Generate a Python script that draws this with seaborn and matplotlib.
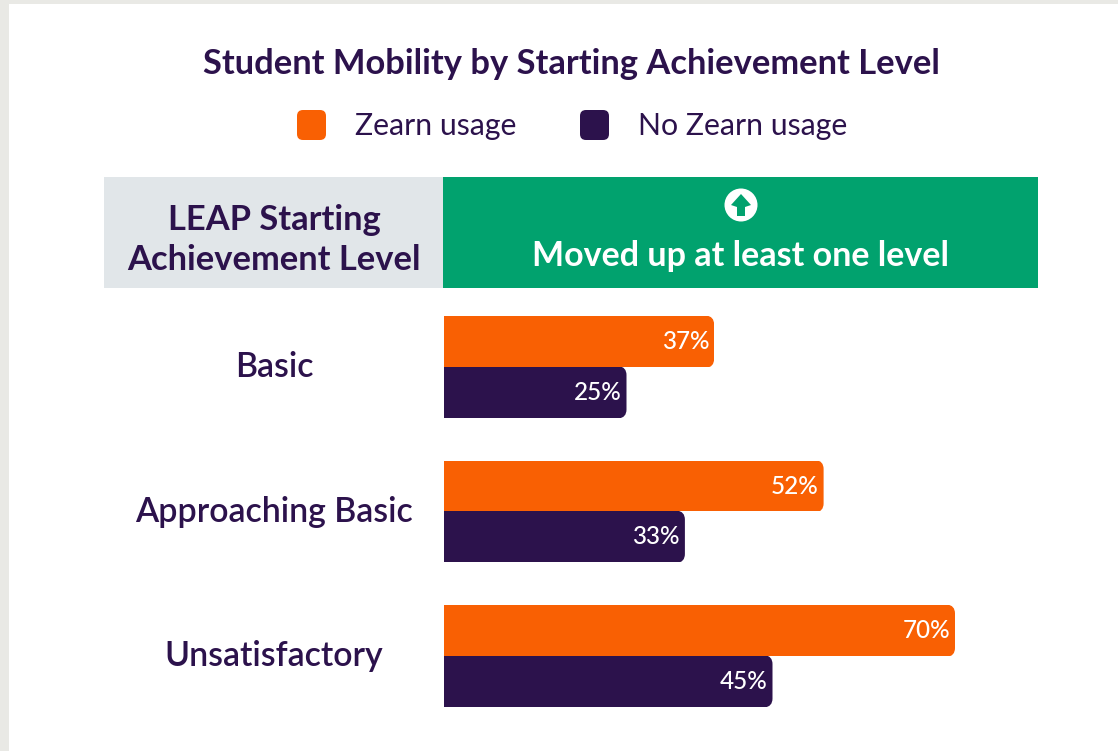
import matplotlib
matplotlib.use("Agg")
import matplotlib.pyplot as plt
import pandas as pd
import seaborn as sns
from matplotlib.patches import Circle, FancyBboxPatch, Polygon, Rectangle
from matplotlib.path import Path

levels = ["Basic", "Approaching Basic", "Unsatisfactory"]
zearn = [37, 52, 70]
no_zearn = [25, 33, 45]
series = ["Zearn usage", "No Zearn usage"]

title = "Student Mobility by Starting Achievement Level"
head_left = "LEAP Starting\nAchievement Level"
head_right = "Moved up at least one level"

ORANGE = "#F96003"
PURPLE = "#2C124C"
GREEN = "#01A26E"
GREY = "#E1E6E9"
W, H = 1118, 751

sns.set_theme(style="white")
plt.rcParams["font.family"] = ["Lato", "DejaVu Sans"]

df = pd.DataFrame({"level": levels * 2,
                   "usage": [series[0]] * 3 + [series[1]] * 3,
                   "pct": zearn + no_zearn})

fig = plt.figure(figsize=(W / 100, H / 100), dpi=100, facecolor="#E9E9E5")

# pixel canvas for the panel, header and legend
bg = fig.add_axes([0, 0, 1, 1])
bg.set_xlim(0, W)
bg.set_ylim(H, 0)
bg.axis("off")
bg.add_patch(Rectangle((9, 4), W - 9, H - 4, fc="white", ec="none"))
bg.add_patch(Rectangle((104, 177), 339, 111, fc=GREY, ec="none"))
bg.add_patch(Rectangle((443, 177), 595, 111, fc=GREEN, ec="none"))

bg.text(571.5, 64, title, ha="center", va="center", fontsize=24.85,
        fontweight="bold", color=PURPLE)
bg.text(274, 240, head_left, ha="center", va="center", fontsize=24.8,
        fontweight="bold", color=PURPLE, linespacing=1.27)
bg.text(741, 256, head_right, ha="center", va="center", fontsize=24.5,
        fontweight="bold", color="white")

# up arrow icon
bg.add_patch(Circle((741, 205), 16.5, fc="white", ec="none"))
bg.add_patch(Polygon([(741, 194), (751, 205), (745, 207), (745, 216),
                      (737, 216), (737, 207), (731, 205)], fc=GREEN, ec="none"))

# legend
for x0, col, name, tx in [(297, ORANGE, series[0], 355), (580, PURPLE, series[1], 638)]:
    bg.add_patch(FancyBboxPatch((x0 + 6, 116), 17, 18, boxstyle="round,pad=6,rounding_size=6",
                                fc=col, ec="none"))
    bg.text(tx, 126, name, ha="left", va="center", fontsize=21.8, color=PURPLE)

# bars
left, right, top, bottom = 444, 1038, 288, 720
ax = fig.add_axes([left / W, 1 - bottom / H, (right - left) / W, (bottom - top) / H])
ax.patch.set_alpha(0)
sns.barplot(data=df, y="level", x="pct", hue="usage", order=levels, hue_order=series,
            palette=[ORANGE, PURPLE], width=0.7, gap=0, legend=False, saturation=1,
            linewidth=0, edgecolor="none", ax=ax)
px_x = 7.3
px_y = 144.5
ax.set_xlim(0, (right - left) / px_x)
ax.set_ylim((bottom - 367) / px_y, -(367 - top) / px_y)
ax.set_xlabel("")
ax.set_ylabel("")
ax.set_xticks([])
sns.despine(ax=ax, left=True, bottom=True)

ax.tick_params(axis="y", length=0, pad=170 * 0.72)
for lab in ax.get_yticklabels():
    lab.set_ha("center")
    lab.set_va("center")
    lab.set_fontsize(24.4)
    lab.set_color(PURPLE)
    lab.set_fontweight("semibold")

# round the right corners of every bar, clip runs past the flat edges to avoid seams
rx, ry = 8 / px_x, 8 / px_y
pad = 1 / px_y
for bar in ax.patches:
    x1 = bar.get_x() + bar.get_width()
    y0, y1 = bar.get_y(), bar.get_y() + bar.get_height()
    verts = [(-1, y0 - pad), (x1 - rx, y0 - pad), (x1, y0), (x1, y0 + ry), (x1, y1 - ry), (x1, y1),
             (x1 - rx, y1 + pad), (-1, y1 + pad), (-1, y0 - pad)]
    codes = [Path.MOVETO, Path.LINETO, Path.CURVE3, Path.CURVE3, Path.LINETO, Path.CURVE3,
             Path.CURVE3, Path.LINETO, Path.CLOSEPOLY]
    bar.set_clip_path(Path(verts, codes), ax.transData)

for cont in ax.containers:
    labs = ax.bar_label(cont, fmt="%d%%", padding=-3.6, color="white", fontsize=17.5, fontweight="medium")
    for t in labs:
        t.set_ha("right")

fig.savefig("out.png", dpi=100, facecolor=fig.get_facecolor())
